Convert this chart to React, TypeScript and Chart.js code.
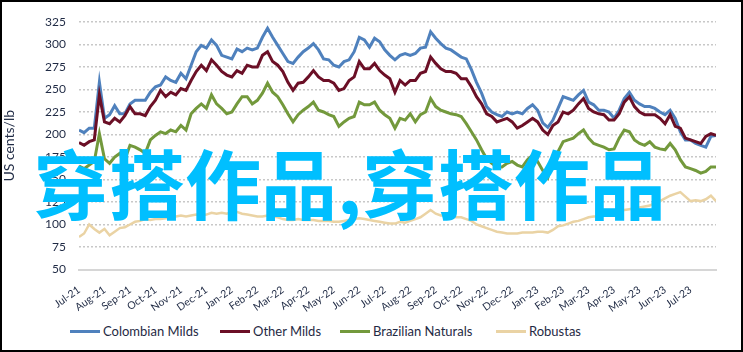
import React, { useEffect, useRef } from "react";
import { Chart, registerables } from "chart.js";

Chart.register(...registerables);

// Month tick labels (one every 5 data points)
const monthLabels = [
  "Jul-21", "Aug-21", "Sep-21", "Oct-21", "Nov-21", "Dec-21", "Jan-22", "Feb-22", "Mar-22",
  "Apr-22", "May-22", "Jun-22", "Jul-22", "Aug-22", "Sep-22", "Oct-22", "Nov-22", "Dec-22",
  "Jan-23", "Feb-23", "Mar-23", "Apr-23", "May-23", "Jun-23", "Jul-23",
];

const seriesNames = ["Colombian Milds", "Other Milds", "Brazilian Naturals", "Robustas"];

// US cents/lb, ~6-day steps from Jul-21 to end Jul-23
const colombianMilds = [
  205, 202, 207, 207, 258, 218, 222, 232, 223, 223, 234, 238, 238, 238, 247, 253, 255, 264, 260, 258,
  268, 262, 277, 292, 299, 296, 305, 299, 288, 286, 284, 295, 292, 296, 294, 296, 308, 318, 308, 299,
  290, 281, 279, 286, 292, 296, 301, 294, 284, 283, 277, 275, 281, 283, 292, 308, 305, 297, 307, 303,
  294, 288, 283, 288, 290, 288, 290, 296, 297, 314, 307, 301, 296, 294, 290, 286, 284, 272, 258, 246,
  231, 225, 222, 220, 225, 223, 225, 223, 229, 233, 227, 213, 208, 216, 229, 242, 240, 238, 244, 249,
  236, 233, 227, 227, 225, 218, 227, 240, 247, 238, 234, 231, 231, 229, 225, 222, 227, 218, 203, 194,
  194, 190, 188, 186, 198, 199,
];

const otherMilds = [
  191, 188, 192, 194, 244, 214, 212, 218, 214, 221, 231, 223, 223, 221, 231, 238, 249, 242, 247, 244,
  251, 249, 260, 270, 277, 271, 283, 277, 270, 266, 264, 271, 268, 277, 275, 275, 288, 292, 281, 277,
  270, 258, 249, 257, 258, 264, 271, 264, 260, 260, 257, 249, 251, 260, 264, 281, 273, 273, 279, 271,
  266, 262, 247, 260, 255, 260, 260, 268, 270, 286, 279, 273, 270, 270, 268, 262, 262, 253, 242, 234,
  223, 220, 214, 216, 218, 214, 207, 210, 214, 218, 214, 205, 200, 210, 214, 225, 223, 227, 234, 240,
  229, 225, 223, 222, 216, 216, 223, 236, 242, 231, 225, 222, 222, 222, 218, 212, 222, 209, 207, 196,
  194, 192, 190, 198, 201, 199,
];

const brazilianNaturals = [
  165, 162, 166, 170, 201, 173, 168, 175, 179, 172, 188, 186, 183, 179, 194, 199, 203, 201, 205, 203,
  210, 205, 223, 229, 234, 229, 244, 234, 229, 223, 225, 234, 242, 242, 234, 238, 246, 257, 247, 242,
  233, 223, 214, 222, 227, 231, 236, 227, 225, 222, 220, 209, 214, 218, 220, 236, 233, 233, 236, 227,
  222, 218, 207, 218, 216, 223, 214, 222, 225, 240, 231, 227, 225, 223, 222, 220, 212, 203, 194, 183,
  173, 168, 164, 164, 168, 170, 166, 164, 172, 177, 170, 160, 152, 170, 181, 192, 194, 196, 201, 205,
  196, 190, 188, 186, 183, 184, 196, 205, 203, 194, 190, 188, 192, 186, 184, 183, 190, 183, 172, 164,
  162, 160, 157, 159, 164, 164,
];

const robustas = [
  86, 90, 100, 95, 91, 95, 88, 92, 96, 97, 100, 103, 104, 106, 105, 106, 106, 107, 108, 109,
  110, 109, 110, 111, 110, 111, 113, 112, 113, 112, 114, 114, 112, 111, 110, 109, 109, 110, 109, 108,
  106, 105, 105, 106, 105, 105, 105, 104, 104, 104, 103, 103, 104, 105, 106, 107, 106, 105, 104, 103,
  102, 101, 101, 103, 102, 104, 106, 108, 112, 116, 112, 110, 110, 109, 108, 108, 106, 104, 100, 98,
  96, 94, 92, 91, 90, 90, 90, 91, 91, 91, 92, 92, 91, 94, 98, 99, 101, 103, 104, 106,
  108, 109, 109, 110, 112, 113, 115, 116, 117, 118, 119, 120, 121, 124, 126, 129, 132, 134, 136, 131,
  126, 127, 126, 128, 132, 126,
];

const yTickMin = 50;
const yTickMax = 325;
const yTickStep = 25;

const COLORS = ["#4f81bd", "#6b0f26", "#73993c", "#ead3a4"];
const TEXT = "#1f2a44";
const FONT = "Lato, 'Open Sans', sans-serif";

export default function App() {
  const ref = useRef<HTMLCanvasElement>(null);

  useEffect(() => {
    const toPts = (arr: number[]) => arr.map((y, i) => ({ x: i, y }));
    const seriesData = [colombianMilds, otherMilds, brazilianNaturals, robustas];
    const widths = [3, 3, 3, 2.5];
    const orders = [1, 0, 0, 0];
    const chart = new Chart(ref.current as HTMLCanvasElement, {
      type: "line",
      data: {
        datasets: seriesData.map((d, k) => ({
          label: seriesNames[k],
          data: toPts(d),
          borderColor: COLORS[k],
          backgroundColor: COLORS[k],
          borderWidth: widths[k],
          pointRadius: 0,
          tension: 0,
          fill: false,
          order: orders[k],
        })),
      },
      options: {
        responsive: false,
        animation: false,
        devicePixelRatio: 1,
        layout: { padding: { left: 0, right: 27, top: 22, bottom: 0 } },
        plugins: { legend: { display: false }, tooltip: { enabled: false } },
        scales: {
          x: {
            type: "linear",
            min: 0,
            max: monthLabels.length * 5,
            grid: { display: false, drawTicks: false },
            border: { display: true, color: "#d6d6d6", width: 2 },
            afterBuildTicks: (s: any) => {
              s.ticks = monthLabels.map((_, m) => ({ value: m * 5 }));
            },
            afterFit: (s: any) => {
              s.height = 45.5;
            },
            ticks: {
              autoSkip: false,
              minRotation: 35,
              maxRotation: 35,
              padding: 14,
              color: TEXT,
              font: { family: FONT, size: 10.5 },
              callback: (_v: any, i: number) => monthLabels[i] ?? "",
            },
          },
          y: {
            min: yTickMin,
            max: yTickMax,
            afterFit: (s: any) => {
              s.width = 79;
            },
            ticks: {
              stepSize: yTickStep,
              padding: 13,
              color: TEXT,
              font: { family: FONT, size: 12 },
            },
            grid: {
              drawTicks: false,
              lineWidth: 1.5,
              color: (c: any) => (c.tick && c.tick.value === yTickMin ? "rgba(0,0,0,0)" : "#c8c8c8"),
            },
            border: { display: false, dash: [2, 2] },
            title: {
              display: true,
              text: "US cents/lb",
              color: TEXT,
              font: { family: FONT, size: 14 },
              padding: { top: 1, bottom: 0 },
            },
          },
        },
      },
    } as any);
    return () => chart.destroy();
  }, []);

  const legendLeft = [70, 220, 340, 496];

  return (
    <div
      style={{
        position: "fixed",
        left: 0,
        top: 0,
        width: 743,
        height: 352,
        background: "#fff",
        overflow: "hidden",
      }}
    >
      <canvas
        ref={ref}
        width={743}
        height={315}
        style={{ position: "absolute", left: 0, top: 0, width: 743, height: 315 }}
      />
      {seriesNames.map((name, k) => (
        <div
          key={name}
          style={{
            position: "absolute",
            left: legendLeft[k],
            top: 321,
            height: 20,
            display: "flex",
            alignItems: "center",
            fontFamily: FONT,
            fontSize: 13,
            color: TEXT,
            whiteSpace: "nowrap",
          }}
        >
          <span
            style={{ display: "inline-block", width: 30, height: 3, background: COLORS[k], marginRight: 3 }}
          />
          <span>{name}</span>
        </div>
      ))}
      <div
        style={{
          position: "absolute",
          left: 33,
          top: 143,
          fontFamily: "'Noto Sans CJK SC', sans-serif",
          fontWeight: 700,
          fontSize: 76,
          lineHeight: "76px",
          color: "#00bfff",
          whiteSpace: "nowrap",
          pointerEvents: "none",
        }}
      >
        穿搭作品,穿搭作品
      </div>
      <div
        style={{
          position: "absolute",
          left: 0,
          top: 0,
          width: 743,
          height: 352,
          boxSizing: "border-box",
          border: "2px solid #000",
          pointerEvents: "none",
        }}
      />
    </div>
  );
}
